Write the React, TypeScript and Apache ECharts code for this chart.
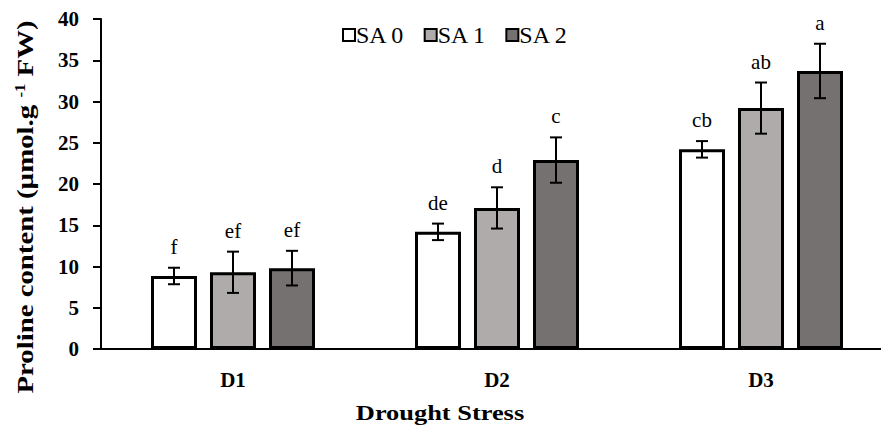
import React, { useEffect, useRef } from "react";
import * as echarts from "echarts";

const categories = ["D1", "D2", "D3"];
const seriesNames = ["SA 0", "SA 1", "SA 2"];
const sa0 = [8.85, 14.2, 24.2];
const sa1 = [9.3, 17.1, 29.2];
const sa2 = [9.8, 22.9, 33.7];
const err0 = [1.0, 1.0, 1.0];
const err1 = [2.5, 2.5, 3.1];
const err2 = [2.1, 2.75, 3.3];
const letters0 = ["f", "de", "cb"];
const letters1 = ["ef", "d", "ab"];
const letters2 = ["ef", "c", "a"];
const yTicks = [0, 5, 10, 15, 20, 25, 30, 35, 40];
const xTitle = "Drought Stress";
const yTitleMain = "Proline content (µmol.g ";
const yTitleSup = "-1";
const yTitleEnd = " FW)";

const colors = ["#ffffff", "#afabab", "#767171"];
const FONT = "'Liberation Serif', 'Times New Roman', serif";
const BAR_W = 46;
const BAR_GAP = 13;

export default function App() {
  const ref = useRef<HTMLDivElement>(null);
  useEffect(() => {
    if (!ref.current) return;
    const chart = echarts.init(ref.current, null, { renderer: "svg" });
    const values = [sa0, sa1, sa2];
    const errs = [err0, err1, err2];
    const letters = [letters0, letters1, letters2];

    const barSeries = seriesNames.map((name, i) => ({
      name,
      type: "bar",
      data: values[i],
      barWidth: BAR_W,
      barGap: (BAR_GAP / BAR_W) * 100 + "%",
      itemStyle: { color: colors[i], borderColor: "#000", borderWidth: 3 },
      z: 2,
    }));

    const errSeries = seriesNames.map((name, i) => ({
      name: name + "_err",
      type: "custom",
      z: 5,
      data: values[i].map((v, j) => [j, v, errs[i][j]]),
      encode: { x: 0, y: 1 },
      renderItem: (params: any, api: any) => {
        const x = api.value(0);
        const v = api.value(1);
        const e = api.value(2);
        const lab = letters[i][params.dataIndex];
        const offset = (i - 1) * (BAR_W + BAR_GAP);
        const top = api.coord([x, v + e]);
        const bot = api.coord([x, v - e]);
        const cx = top[0] + offset;
        const hw = 6;
        const st = { stroke: "#000", lineWidth: 2 };
        return {
          type: "group",
          children: [
            { type: "line", shape: { x1: cx, y1: top[1], x2: cx, y2: bot[1] }, style: st },
            { type: "line", shape: { x1: cx - hw, y1: top[1], x2: cx + hw, y2: top[1] }, style: st },
            { type: "line", shape: { x1: cx - hw, y1: bot[1], x2: cx + hw, y2: bot[1] }, style: st },
            {
              type: "text",
              style: {
                text: lab,
                x: cx,
                y: top[1] - 21,
                align: "center",
                verticalAlign: "middle",
                fontFamily: FONT,
                fontSize: 21,
                fill: "#000",
              },
            },
          ],
        };
      },
    }));

    chart.setOption({
      animation: false,
      grid: { left: 101, right: 0, top: 19, bottom: 80, containLabel: false },
      legend: {
        data: seriesNames,
        top: 18,
        left: 337,
        itemWidth: 12,
        itemHeight: 12,
        itemGap: 19,
        icon: "rect",
        textStyle: { fontFamily: FONT, fontSize: 24, color: "#000", padding: [0, 0, 0, -4] },
        itemStyle: { borderColor: "#000", borderWidth: 2 },
      },
      graphic: [
        {
          type: "text",
          x: 25,
          y: 207,
          rotation: Math.PI / 2,
          scaleX: 1.2,
          style: {
            text: "{a|" + yTitleMain + "}{s|" + yTitleSup + "}{a|" + yTitleEnd + "}",
            align: "center",
            verticalAlign: "middle",
            rich: {
              a: { fontFamily: FONT, fontSize: 24, fontWeight: "bold", fill: "#000" },
              s: { fontFamily: FONT, fontSize: 14, fontWeight: "bold", fill: "#000", verticalAlign: "top", padding: [0, 0, 10, 0] },
            },
          },
        },
        {
          type: "text",
          x: 440,
          y: 412,
          scaleX: 1.2,
          style: {
            text: xTitle,
            align: "center",
            verticalAlign: "middle",
            fontFamily: FONT,
            fontSize: 22,
            fontWeight: "bold",
            fill: "#000",
          },
        },
      ],
      xAxis: {
        type: "category",
        data: categories,
        axisLine: { lineStyle: { color: "#000", width: 2 } },
        axisTick: { show: false },
        axisLabel: { fontFamily: FONT, fontSize: 21, fontWeight: "bold", color: "#000", margin: 20 },
      },
      yAxis: {
        type: "value",
        min: yTicks[0],
        max: yTicks[yTicks.length - 1],
        interval: 5,
        splitLine: { show: false },
        axisLine: { show: true, lineStyle: { color: "#000", width: 2 } },
        axisTick: { show: true, length: 8, lineStyle: { color: "#000", width: 2 } },
        axisLabel: { fontFamily: FONT, fontSize: 21, fontWeight: "bold", color: "#000", margin: 22 },
      },
      series: [...barSeries, ...errSeries],
    });
    return () => chart.dispose();
  }, []);
  return (
    <div style={{ width: 881, height: 429, position: "absolute", left: 0, top: 0, overflow: "hidden" }}>
      <div ref={ref} style={{ width: 893, height: 429 }} />
    </div>
  );
}
